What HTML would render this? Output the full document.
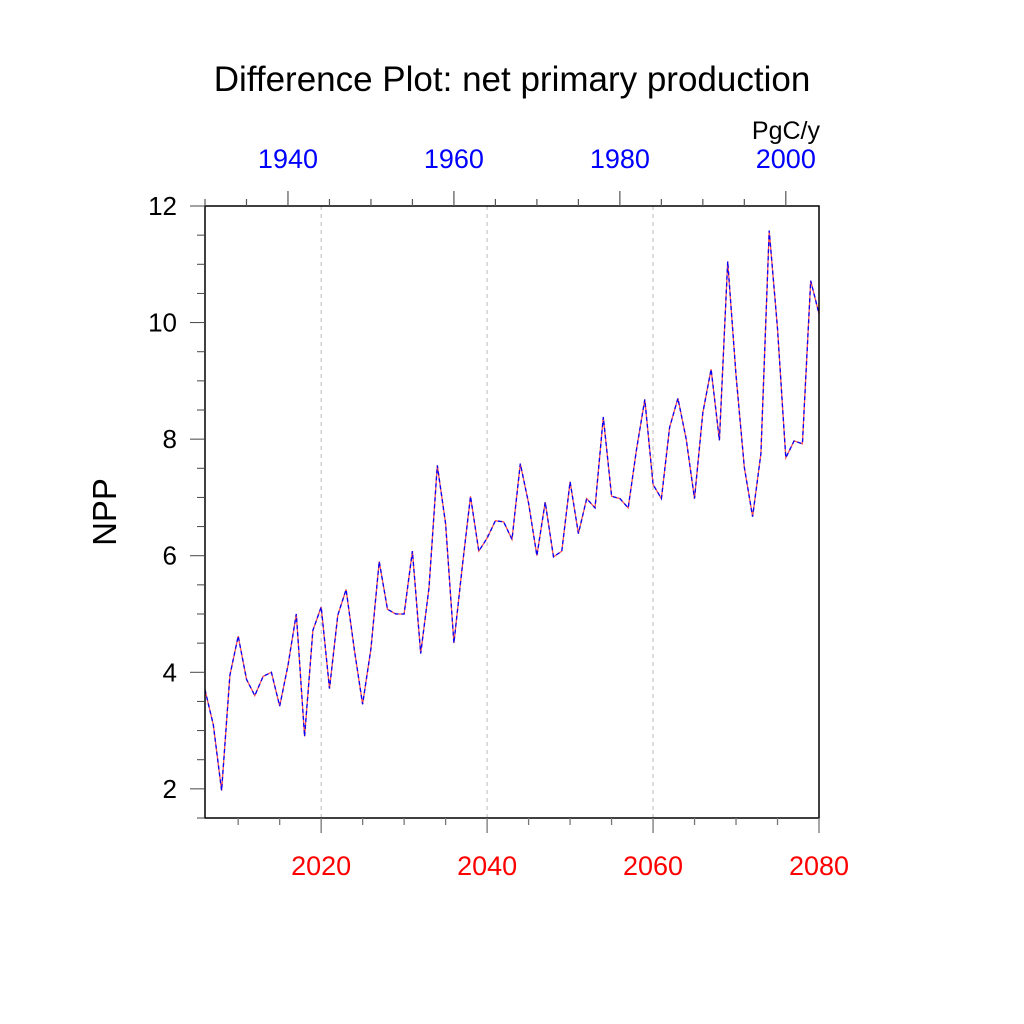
<!DOCTYPE html>
<html><head><meta charset="utf-8"><style>body{margin:0;background:#fff}svg{display:block}text{font-family:"Liberation Sans",sans-serif}</style></head>
<body>
<svg id="chart" width="1024" height="1024" viewBox="0 0 1024 1024">
<rect width="1024" height="1024" fill="#fff"/>
<text x="512" y="91" font-size="35" text-anchor="middle">Difference Plot: net primary production</text>
<text x="820" y="139" font-size="25" text-anchor="end">PgC/y</text>
<text transform="translate(116,512) rotate(-90)" font-size="33" text-anchor="middle">NPP</text>
<g id="grid"></g>
<g id="series"></g>
<rect x="205" y="206" width="614" height="612" fill="none" stroke="#000" stroke-width="1.5"/>
<g id="axes"></g>
</svg>
<script>
const years = [];
for (let y = 2006; y <= 2080; y++) years.push(y);
const npp = [3.7,3.1,1.97,3.95,4.62,3.88,3.6,3.93,4.0,3.42,4.12,5.0,2.9,4.72,5.12,3.72,4.98,5.42,4.38,3.45,4.4,5.9,5.08,5.0,5.0,6.08,4.32,5.45,7.55,6.55,4.5,5.8,7.02,6.08,6.3,6.6,6.58,6.28,7.58,6.9,6.0,6.92,5.98,6.08,7.27,6.38,6.98,6.82,8.38,7.02,6.98,6.82,7.82,8.68,7.22,6.98,8.2,8.7,8.0,6.98,8.45,9.2,7.98,11.05,9.1,7.52,6.67,7.75,11.58,9.9,7.68,7.97,7.92,10.72,10.15];
const yTicks = [2,4,6,8,10,12];
const bottomTicks = [2020,2040,2060,2080];
const topTicks = [1940,1960,1980,2000];

const NS = 'http://www.w3.org/2000/svg';
const X0 = 205, X1 = 819, Y0 = 818, Y1 = 206;
const xs = v => X0 + (v - 2006) / 74 * (X1 - X0);
const xt = v => X0 + (v - 1930) / 74 * (X1 - X0);
const ys = v => Y0 - (v - 1.5) / 10.5 * (Y0 - Y1);
function mk(tag, attrs, parent) { const e = document.createElementNS(NS, tag); for (const k in attrs) e.setAttribute(k, attrs[k]); parent.appendChild(e); return e; }
const grid = document.getElementById('grid'), ser = document.getElementById('series'), axes = document.getElementById('axes');

bottomTicks.slice(0, 3).forEach(t => {
  const l = mk('line', {x1: xs(t), x2: xs(t), y1: Y1, y2: Y0, stroke: '#bbb', 'stroke-width': 1, 'stroke-dasharray': '4,4'}, grid);
  
  
});

const pts = years.map((y, i) => xs(y).toFixed(1) + ',' + ys(npp[i]).toFixed(1)).join(' ');
const red = mk('polyline', {points: pts, fill: 'none', stroke: '#ff5050', 'stroke-width': 1.3}, ser);


const blue = mk('polyline', {points: pts, fill: 'none', stroke: '#0000ff', 'stroke-width': 1.3, 'stroke-dasharray': '4,3'}, ser);



for (let v = 1.5; v <= 12.001; v += 0.5) {
  const major = Math.abs(v - Math.round(v / 2) * 2) < 1e-6 && v >= 2;
  mk('line', {x1: X0 - (major ? 15 : 8), x2: X0, y1: ys(v), y2: ys(v), stroke: '#444', 'stroke-width': 1}, axes);
}
yTicks.forEach(t => {
  const e = mk('text', {x: 177, y: ys(t) + 9, 'font-size': 26, 'text-anchor': 'end'}, axes);
  e.textContent = t;
  
  
});
for (let v = 2010; v <= 2080; v += 5) {
  const major = v % 20 === 0;
  mk('line', {x1: xs(v), x2: xs(v), y1: Y0, y2: Y0 + (major ? 15 : 7), stroke: '#777', 'stroke-width': 1.3}, axes);
}
bottomTicks.forEach(t => {
  const e = mk('text', {x: xs(t), y: 875, 'font-size': 27, 'text-anchor': 'middle', fill: '#f00'}, axes);
  e.textContent = t;
  
  
});
for (let v = 1930; v <= 2004; v += 5) {
  const major = v % 20 === 0;
  mk('line', {x1: xt(v), x2: xt(v), y1: Y1, y2: Y1 - (major ? 15 : 7), stroke: '#555', 'stroke-width': 1.2}, axes);
}
topTicks.forEach(t => {
  const e = mk('text', {x: xt(t), y: 168, 'font-size': 27, 'text-anchor': 'middle', fill: '#00f'}, axes);
  e.textContent = t;
  
  
});
</script>
</body></html>
